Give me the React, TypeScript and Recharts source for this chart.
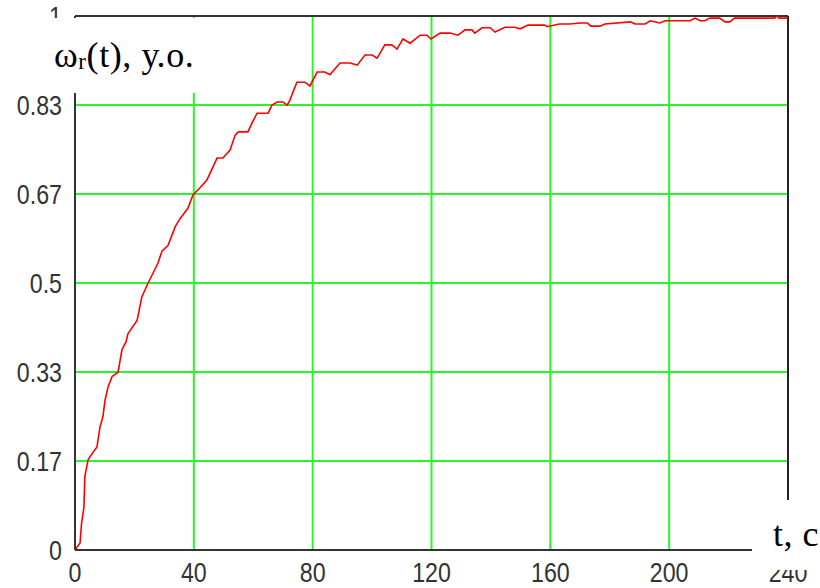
import React from 'react'
import { LineChart, Line, XAxis, YAxis, CartesianGrid, ReferenceLine } from 'recharts'

// rotor speed transient, t in seconds, omega in relative units
const tValues = [
    0, 1.7, 2.2, 3, 3.3, 4.4, 5.7, 7.4, 8.4, 9.4, 10.1, 11.1, 12.5, 14.5, 15.8, 17.2, 17.8, 20.9, 22.5, 24.6,
    27.9, 29.3, 31.3, 33.7, 35.3, 38, 39.7, 42, 44.4, 46, 47.8, 49.8, 52.2, 53.9, 55, 58.2, 59.6, 61.3, 65, 66.3,
    68, 70, 71.4, 72.4, 73.4, 74.7, 77.4, 79.1, 81.5, 84.1, 85.8, 89.2, 92.6, 95, 97.6, 100, 101.7, 104.3, 106.6, 108.4,
    110.4, 112.8, 116.2, 118.5, 119.8, 122.9, 126.3, 128.9, 131.3, 133.6, 134.6, 137, 139.7, 141.4, 144.7, 148, 149.8, 152.5, 158, 159,
    163, 166.5, 170, 172.5, 173.6, 176.7, 178.4, 187, 188.5, 191.9, 193.6, 196.9, 198.6, 207, 208.7, 210.4, 212, 213.7, 217, 218.8,
    220.4, 222, 235.5, 236.3, 237, 240,
]

const omegaValues = [
    0, 0.013, 0.05, 0.08, 0.137, 0.169, 0.18, 0.193, 0.23, 0.25, 0.28, 0.305, 0.325, 0.333, 0.375, 0.39, 0.405, 0.43, 0.474, 0.5,
    0.537, 0.56, 0.57, 0.605, 0.62, 0.64, 0.665, 0.678, 0.693, 0.712, 0.734, 0.734, 0.749, 0.777, 0.783, 0.783, 0.8, 0.818, 0.818, 0.833,
    0.839, 0.839, 0.833, 0.843, 0.858, 0.876, 0.876, 0.869, 0.895, 0.895, 0.89, 0.912, 0.912, 0.908, 0.927, 0.927, 0.921, 0.946, 0.946, 0.938,
    0.957, 0.949, 0.964, 0.964, 0.957, 0.968, 0.968, 0.964, 0.974, 0.974, 0.968, 0.978, 0.978, 0.97, 0.979, 0.979, 0.976, 0.983, 0.983, 0.98,
    0.985, 0.985, 0.987, 0.987, 0.981, 0.981, 0.985, 0.989, 0.985, 0.985, 0.991, 0.987, 0.991, 0.991, 0.996, 0.991, 0.991, 0.996, 0.996, 0.989,
    0.989, 0.996, 0.996, 1.0, 0.996, 0.996,
]

const xTicks = [0, 40, 80, 120, 160, 200, 240]
const yTicks = [0, 0.1667, 0.3333, 0.5, 0.6667, 0.8333, 1]
const yTickLabels = ['0', '0.17', '0.33', '0.5', '0.67', '0.83', '1']

const data = tValues.map((t, i) => ({ t, w: omegaValues[i] }))

const serif = '"Liberation Serif", "Times New Roman", serif'

// narrow sans tick text (squeezed horizontally around its anchor)
function NarrowTick(props: any) {
    const { x, y, payload, textAnchor, axis } = props
    const label = axis === 'y'
        ? (yTickLabels[yTicks.indexOf(payload.value)] ?? String(payload.value))
        : String(payload.value)
    return (
        <text
            transform={`translate(${x},${y}) scale(0.86,1)`}
            textAnchor={textAnchor}
            dy={axis === 'y' ? '0.38em' : '0.71em'}
            fontFamily='"Liberation Sans", Arial, sans-serif'
            fontSize={27}
            fill="#333"
        >
            {label}
        </text>
    )
}

export default function App() {
    return (
        <div style={{ position: 'absolute', left: 0, top: 0, width: 820, height: 588, background: '#fff' }}>
            <LineChart width={820} height={588} data={data} margin={{ top: 16, right: 32, left: 0, bottom: 0 }}>
                <CartesianGrid stroke="#2af52a" strokeWidth={2} />
                <XAxis
                    dataKey="t"
                    type="number"
                    domain={[0, 240]}
                    ticks={xTicks}
                    interval={0}
                    height={38}
                    tickLine={false}
                    tickSize={0}
                    tickMargin={13}
                    tick={<NarrowTick axis="x" />}
                    axisLine={{ stroke: '#333', strokeWidth: 2 }}
                />
                <YAxis
                    type="number"
                    domain={[0, 1]}
                    ticks={yTicks}
                    interval={0}
                    width={75}
                    tickLine={false}
                    tickSize={0}
                    tickMargin={13}
                    tick={<NarrowTick axis="y" />}
                    axisLine={{ stroke: '#333', strokeWidth: 2 }}
                />
                <ReferenceLine y={1} stroke="#333" strokeWidth={2} />
                <ReferenceLine x={240} stroke="#222" strokeWidth={2} />
                <Line
                    type="linear"
                    dataKey="w"
                    stroke="#ff0000"
                    strokeWidth={1.6}
                    dot={false}
                    isAnimationActive={false}
                />
            </LineChart>

            {/* axis captions sit on white boxes that cut the frame */}
            <div style={{ position: 'absolute', left: 0, top: 18, width: 205, height: 75, background: '#fff' }}>
                <div style={{ position: 'absolute', left: 54, top: 16, fontFamily: serif, fontSize: 36, letterSpacing: 0.6, lineHeight: 'normal', color: '#000', whiteSpace: 'nowrap' }}>
                    ω<span style={{ fontSize: 23, position: 'relative', top: 2 }}>r</span>(t), у.о.
                </div>
            </div>
            <div style={{ position: 'absolute', left: 752, top: 500, width: 68, height: 70, background: '#fff' }}>
                <div style={{ position: 'absolute', left: 21, top: 13, fontFamily: serif, fontSize: 36, letterSpacing: 0.5, lineHeight: 'normal', color: '#000', whiteSpace: 'nowrap' }}>
                    t, с
                </div>
            </div>
        </div>
    )
}
